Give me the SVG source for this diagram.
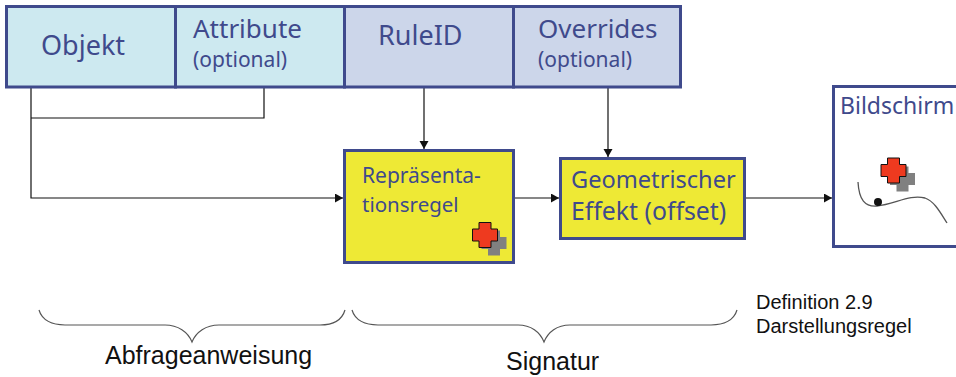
<svg xmlns="http://www.w3.org/2000/svg" width="956" height="377" viewBox="0 0 956 377">
<style>
.t{font-family:"Noto Sans","DejaVu Sans",sans-serif;fill:#3f4a8c}
.a{font-family:"Liberation Sans",Arial,sans-serif;fill:#111}
.b{stroke:#3f4a8c;stroke-width:3}
.c{fill:none;stroke:#111;stroke-width:1.2}
.br{fill:none;stroke:#555;stroke-width:1.2}
</style>
<defs>
<marker id="ah" markerUnits="userSpaceOnUse" markerWidth="10" markerHeight="10" refX="8" refY="4.500" orient="auto"><path d="M0 0L8 4.500L0 9z" fill="#111"/></marker>
<g id="cross"><path d="M-6-12.500H6V-6H12.500V6H6V12.500H-6V6H-12.500V-6H-6z"/></g>
</defs>
<rect width="956" height="377" fill="#fff"/>
<g id="connectors">
<path class="c" d="M31 87V198H343" marker-end="url(#ah)"/>
<path class="c" d="M31 118H264V87"/>
<path class="c" d="M424 87V149" marker-end="url(#ah)"/>
<path class="c" d="M608 87V157" marker-end="url(#ah)"/>
<path class="c" d="M514 198H559" marker-end="url(#ah)"/>
<path class="c" d="M745 198H832" marker-end="url(#ah)"/>
</g>
<g id="objekt"><rect class="b" x="6.500" y="6.500" width="169" height="80.500" fill="#cde9f0"/><text class="t" x="41" y="55" font-size="27">Objekt</text></g>
<g id="attribute"><rect class="b" x="175.500" y="6.500" width="169" height="80.500" fill="#cde9f0"/><text class="t" x="193" y="38" font-size="26">Attribute</text><text class="t" x="193" y="67" font-size="21">(optional)</text></g>
<g id="ruleid"><rect class="b" x="344.500" y="6.500" width="169" height="80.500" fill="#ccd6ea"/><text class="t" x="378" y="45" font-size="27">RuleID</text></g>
<g id="overrides"><rect class="b" x="513.500" y="6.500" width="167" height="80.500" fill="#ccd6ea"/><text class="t" x="538" y="38" font-size="26">Overrides</text><text class="t" x="538" y="67" font-size="21">(optional)</text></g>
<g id="repraesentationsregel"><rect class="b" x="344.500" y="150.500" width="169" height="112" fill="#eee935"/><text class="t" x="362" y="183" font-size="21">Repräsenta-</text><text class="t" x="362" y="212" font-size="20.500">tionsregel</text>
<use href="#cross" transform="translate(494 243)" fill="#808080"/><use href="#cross" transform="translate(485 235)" fill="#ee3a1f" stroke="#111" stroke-width="1"/></g>
<g id="effekt"><rect class="b" x="560.500" y="158.500" width="184" height="80" fill="#eee935"/><text class="t" x="571" y="188" font-size="23.600">Geometrischer</text><text class="t" x="571" y="220" font-size="24.800">Effekt (offset)</text></g>
<g id="bildschirm"><rect class="b" x="833.500" y="86.500" width="130" height="160" fill="#fff"/><text class="t" x="840" y="114" font-size="23">Bildschirm</text>
<use href="#cross" transform="translate(902.500 179)" fill="#808080"/><use href="#cross" transform="translate(893.500 170.500)" fill="#ee3a1f" stroke="#111" stroke-width="1"/>
<path fill="none" stroke="#555" stroke-width="1.300" d="M858 182C859 200 865 207 877 206C895 204 910 194 925 198C934 201 940 212 947 223"/><circle cx="878" cy="202" r="4" fill="#111"/></g>
<g id="brace1"><path class="br" d="M39 310C42 320 52 325 65 325H165C178 325 188 332 192 342C196 332 206 325 219 325H320C333 325 342 320 345 310"/><text class="a" x="105" y="364" font-size="25">Abfrageanweisung</text></g>
<g id="brace2"><path class="br" d="M352 310C355 320 365 325 378 325H518C531 325 540 332 544 342C548 332 557 325 570 325H711C724 325 734 320 737 310"/><text class="a" x="506" y="370" font-size="25">Signatur</text></g>
<g id="definition"><text class="a" x="756" y="309" font-size="20">Definition 2.9</text><text class="a" x="756" y="333" font-size="20">Darstellungsregel</text></g>
</svg>
